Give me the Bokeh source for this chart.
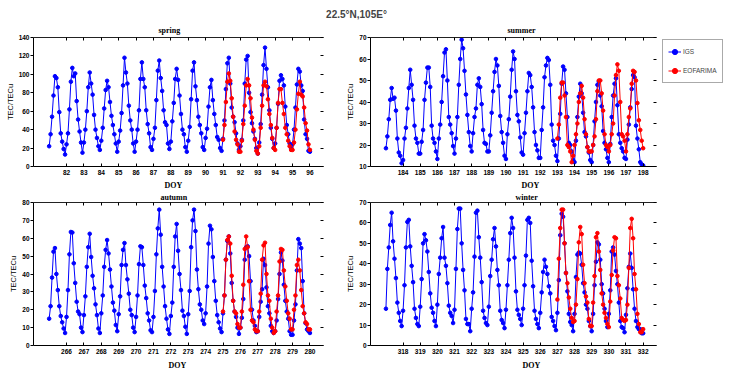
import math
from bokeh.plotting import figure
from bokeh.models import Range1d, FixedTicker, Label, Legend, LegendItem, LinearAxis, CustomJSTickFormatter, Title
from bokeh.layouts import column, row
from bokeh.embed import file_html
from bokeh.resources import INLINE

main_title = "22.5°N,105E°"
panel_titles = ["spring", "summer", "autumn", "winter"]
x_label = "DOY"
y_label = "TEC/TECu"
series_names = ["IGS", "EOFARIMA"]

# ---------------- data (2-hourly TEC, 12 values per day) ----------------
spring_ticks = list(range(82, 97))
spring_y_ticks = [0, 20, 40, 60, 80, 100, 120, 140]
spring_igs_start = 81
spring_eof_start = 91
spring_igs = [
    22, 35, 54, 77, 98, 96, 86, 59, 36, 27, 19, 13,
    24, 36, 62, 92, 107, 98, 101, 71, 51, 38, 26, 15,
    26, 40, 60, 86, 102, 90, 78, 56, 40, 31, 22, 18,
    28, 42, 63, 83, 93, 86, 70, 55, 45, 35, 25, 16,
    27, 39, 58, 88, 118, 102, 90, 66, 50, 40, 25, 16,
    27, 40, 61, 95, 113, 95, 86, 61, 46, 36, 21, 18,
    30, 42, 72, 104, 115, 96, 82, 61, 48, 45, 25, 19,
    27, 49, 69, 95, 106, 94, 77, 57, 40, 35, 21, 16,
    28, 43, 73, 104, 113, 87, 72, 54, 45, 36, 21, 18,
    31, 41, 65, 86, 94, 72, 57, 45, 32, 29, 20, 17,
    30, 50, 84, 112, 118, 90, 64, 54, 48, 36, 25, 18,
    22, 29, 50, 90, 116, 120, 80, 59, 47, 38, 30, 20,
    14, 26, 46, 78, 110, 129, 106, 86, 61, 42, 30, 20,
    25, 42, 68, 93, 99, 95, 88, 65, 45, 35, 25, 20,
    24, 40, 64, 89, 106, 103, 88, 82, 51, 35, 30, 17,
    16,
]
spring_eof = [
    29, 45, 70, 92, 101, 93, 74, 54, 38, 29, 24, 16,
    16, 28, 46, 66, 88, 95, 88, 74, 53, 40, 29, 17,
    14, 22, 42, 66, 88, 92, 87, 73, 57, 45, 31, 20,
    18, 42, 69, 84, 84, 69, 57, 42, 35, 28, 22, 18,
    18, 26, 40, 62, 79, 92, 78, 76, 64, 47, 39, 24,
    18,
]

summer_ticks = list(range(184, 199))
summer_y_ticks = [10, 20, 30, 40, 50, 60, 70]
summer_igs_start = 183
summer_eof_start = 193
summer_igs = [
    18.5, 24, 32, 41, 46.5, 41.5, 42, 36, 23, 16.5, 15, 11.5,
    13, 23, 28, 37, 46.5, 55, 48, 41, 29, 23, 21, 16,
    16, 21.5, 27, 41, 49, 56, 56, 47, 29, 23, 21, 17,
    13.5, 23, 29.5, 40, 52, 63, 64.5, 50, 33, 29.5, 25.5, 19.5,
    16, 23, 33, 48, 60, 69, 65, 54.5, 43.5, 34, 26, 19.5,
    17, 25.5, 33, 37, 48, 51, 47, 39, 27, 21, 20.5, 17,
    17, 24.5, 35, 45, 54, 60, 57, 47.5, 33.5, 26, 21, 15,
    13.5, 25, 32, 42.5, 55, 63.5, 60, 45, 34, 31, 23.5, 16.5,
    15.5, 25.5, 35, 45, 53.5, 52.5, 47, 37.5, 26, 20, 17.5, 14,
    14, 27, 37.5, 51.5, 57, 60.5, 59.5, 48, 29.5, 22, 20, 15,
    12.5, 23, 34.5, 48.5, 56.5, 55, 44, 33, 21, 20, 17, 13,
    12, 22, 33, 42.5, 48.5, 44, 35, 26, 24, 19, 16.5, 13,
    12, 20, 31, 40, 48, 49.5, 43, 38, 26.5, 21, 18, 14,
    12, 20.5, 33, 43, 48.5, 51, 38.5, 25, 21, 18.5, 17, 14,
    13.5, 22.5, 29.5, 37.5, 46, 52.5, 51.5, 29, 23, 18, 12, 11,
    10.5,
]
summer_eof = [
    23, 29.5, 42, 49, 49, 43, 33, 20, 19, 17, 12, 15,
    20, 25, 30, 40, 44, 47.5, 42, 32, 25, 19, 17, 17,
    17, 20, 24, 32, 45, 50, 50, 44, 36, 25, 20, 19,
    17, 20, 25, 30, 43, 52.5, 57.5, 54.5, 40, 25, 24, 22,
    17, 25, 33, 37, 48.5, 54.5, 54, 50, 39.5, 31.5, 27, 22,
    18.5,
]

autumn_ticks = list(range(266, 281))
autumn_y_ticks = [0, 10, 20, 30, 40, 50, 60, 70, 80]
autumn_igs_start = 265
autumn_eof_start = 275
autumn_igs = [
    15, 22, 38, 52.5, 54.5, 40, 31, 22, 16.5, 13, 9.5, 7,
    16, 31, 51, 63.5, 63.2, 46, 35, 24.5, 19, 17.5, 10, 7.5,
    17, 27.5, 44, 55, 62.5, 49.5, 39, 32, 23, 17, 9.5, 7,
    18, 28, 44, 53.5, 59, 51.5, 42.5, 33, 24, 19.5, 11.5, 8,
    17.5, 27.5, 45, 53.5, 57.3, 45, 37, 29, 20, 17, 10, 7.5,
    16, 28, 45.5, 55.5, 55, 45, 33.5, 26.5, 18, 14, 8.5, 7.5,
    16, 30.5, 51, 65.5, 76, 62, 44, 33, 22, 15, 9, 6.5,
    16.5, 24, 44, 61, 68, 53, 40, 31, 19.5, 16.5, 10.5, 6.5,
    17.5, 30.5, 55, 70, 76, 64, 42.5, 31.5, 23, 20, 14, 12,
    18, 33, 57, 67, 65, 49.5, 36, 25, 17, 13, 9.5, 7.5,
    18, 28, 48, 58.5, 61, 51.5, 35, 25, 19, 16, 10, 6.5,
    10, 15.5, 26, 48, 55, 55.5, 50, 36, 20, 14, 11, 7.5,
    8, 16, 24.5, 31.5, 48.5, 45, 32.5, 22, 18, 11, 8, 7,
    8, 14, 26, 40, 52, 47.5, 34, 25, 19, 15, 8, 6,
    6, 14, 23, 42, 59.5, 57, 54.5, 36, 18, 12.5, 9, 8,
    7,
]
autumn_eof = [
    19, 28, 48, 59, 61, 57, 39, 25, 19, 18, 12, 10,
    10, 19, 34, 54, 61, 55, 36, 20, 14, 13, 9, 8,
    8, 19, 29, 48, 56, 57.5, 40, 28, 25, 15, 10, 7,
    8, 19, 28, 47, 54, 53.5, 42, 33, 25, 18, 15, 9,
    9, 20, 28, 45, 48, 42, 31, 22, 18, 13, 12, 9,
    9,
]

winter_ticks = list(range(318, 333))
winter_y_ticks = [0, 10, 20, 30, 40, 50, 60, 70]
winter_igs_start = 317
winter_eof_start = 327
winter_igs = [
    18, 37.5, 48, 59, 65, 51, 42.5, 33, 21, 16, 12, 9.5,
    17, 29.5, 48, 60.5, 61.5, 48.5, 39, 31, 18, 13.5, 10.5, 9.5,
    19, 32.5, 50, 54.5, 51.5, 46, 36, 25.5, 18.5, 16, 12, 9.5,
    20, 35, 43, 52.5, 58, 43, 39, 30.5, 19.5, 16, 14.5, 11,
    17.5, 37.5, 57, 67, 67, 50, 37, 27, 13, 10.5, 10.5, 7,
    18, 26, 43.5, 65, 66, 53, 43, 31, 17, 13.5, 11, 10,
    19, 34, 42, 52, 57.5, 48.5, 37, 29.5, 17, 12.5, 11, 8.5,
    17.5, 29.5, 42, 55, 62.5, 57.5, 43, 26.5, 17.5, 15, 13, 10,
    18, 29.5, 44, 61.5, 62.5, 60, 41.5, 29, 17, 13, 10.5, 8.5,
    16, 26, 36, 42, 38.5, 35, 29, 25.5, 14, 12, 9.5, 7.5,
    16, 32, 54, 64.5, 63, 50, 35.5, 26.5, 15.5, 11.5, 10, 7,
    15.5, 33.5, 44.5, 45.5, 45, 39.5, 30.5, 26, 20, 18, 12, 9.5,
    7, 15.5, 29.5, 41, 50.5, 49.5, 42, 30, 25.5, 18, 12, 9,
    15.5, 27, 46, 48, 44.5, 36.5, 30, 21, 12, 9, 8.5, 6.5,
    15, 28, 38.5, 45, 38, 27.5, 18, 12, 9, 8, 8, 6,
    6,
]
winter_eof = [
    22.5, 42.5, 57.5, 66.5, 66.5, 50, 35.5, 30.5, 23.5, 18, 13.5, 11.5,
    12, 20, 32.5, 50.5, 58, 54.5, 39.5, 30.5, 24, 21, 13, 9.5,
    9.5, 21, 34, 53, 55, 46, 37, 25.5, 20, 16, 13.5, 10.5,
    9, 21.5, 34.5, 46.5, 53, 52.5, 34, 29.5, 23, 13.5, 12.5, 12,
    12.5, 20, 38, 57.5, 62, 52.5, 35, 27.5, 15.5, 10.5, 6.5, 6.5,
    8,
]

# ---------------- styling / layout ----------------
BLUE = "#0000ff"
RED = "#ff0000"
SANS = "Liberation Sans"
SERIF = "Liberation Serif"
STEPS_PER_DAY = 12
MARKER_SIZE = 3.6


def day_positions(start, n):
    return [start + i / STEPS_PER_DAY for i in range(n)]


def make_panel(title, ticks, yticks, igs, eof, igs_start, eof_start, geo):
    x0 = ticks[0] - 1.9
    x1 = ticks[-1] + 0.78
    p = figure(width=geo["w"], height=geo["h"],
               x_range=Range1d(x0, x1), y_range=Range1d(yticks[0], yticks[-1]),
               toolbar_location=None, output_backend="svg",
               min_border_left=geo["l"], min_border_right=geo["r"],
               min_border_top=geo["t"], min_border_bottom=geo["b"])
    p.grid.visible = False
    p.outline_line_color = None
    p.background_fill_color = "white"

    p.title.text = title
    p.title.align = "left"
    p.title.offset = geo["title_off"]
    p.title.standoff = geo["title_so"]
    p.title.text_font = SERIF
    p.title.text_font_style = "bold"
    p.title.text_font_size = "8px"
    p.title.text_color = "black"

    xa = p.xaxis[0]
    xa.ticker = FixedTicker(ticks=ticks)
    xa.major_tick_in = 3
    xa.major_tick_out = 0
    xa.minor_tick_line_color = None
    xa.major_label_standoff = 3
    xa.major_label_text_font = SANS
    xa.major_label_text_font_size = "6.5px"
    xa.major_label_text_font_style = "bold"
    xa.major_label_text_color = "black"
    xa.axis_line_color = "black"
    xa.major_tick_line_color = "black"

    ya = p.yaxis[0]
    ya.ticker = FixedTicker(ticks=yticks)
    ya.major_tick_in = 0
    ya.major_tick_out = 3
    ya.minor_tick_line_color = None
    ya.major_label_standoff = 1
    ya.major_label_text_font = SANS
    ya.major_label_text_font_size = "6.5px"
    ya.major_label_text_font_style = "bold"
    ya.major_label_text_color = "black"
    ya.axis_line_color = "black"
    ya.major_tick_line_color = "black"
    ya.axis_label = y_label
    ya.axis_label_standoff = 1
    ya.axis_label_text_font = SANS
    ya.axis_label_text_font_size = "7.5px"
    ya.axis_label_text_font_style = "normal"
    ya.axis_label_text_color = "black"

    blank = CustomJSTickFormatter(code="return ''")
    top = LinearAxis(ticker=FixedTicker(ticks=ticks), formatter=blank,
                     major_tick_in=3, major_tick_out=0, minor_tick_line_color=None,
                     major_label_standoff=0, major_label_text_font_size="1px",
                     axis_line_color="#222222", major_tick_line_color="black")
    p.add_layout(top, "above")
    right = LinearAxis(ticker=FixedTicker(ticks=yticks), formatter=blank,
                       major_tick_in=3, major_tick_out=0, minor_tick_line_color=None,
                       major_label_standoff=0, major_label_text_font_size="1px",
                       axis_line_color=None, major_tick_line_color="black")
    p.add_layout(right, "right")

    p.add_layout(Title(text=x_label, align="left", offset=geo["doy_off"],
                       standoff=geo["doy_so"], text_font=SERIF, text_font_style="bold",
                       text_font_size="8px", text_color="black"), "below")

    xs = day_positions(igs_start, len(igs))
    xe = day_positions(eof_start, len(eof))
    p.line(xs, igs, line_color=BLUE, line_width=1)
    p.scatter(xs, igs, marker="circle", size=MARKER_SIZE, fill_color=BLUE, line_color=BLUE)
    p.line(xe, eof, line_color=RED, line_width=1)
    p.scatter(xe, eof, marker="circle", size=MARKER_SIZE, fill_color=RED, line_color=RED)
    return p


geo_spring = dict(w=343, h=170, l=33, r=20, t=16, b=20,
                  title_off=125, title_so=5, doy_off=131, doy_so=2)
geo_summer = dict(w=317, h=170, l=24, r=4, t=16, b=20,
                  title_off=137, title_so=5, doy_off=151, doy_so=2)
geo_autumn = dict(w=343, h=181, l=33, r=20, t=11, b=21,
                  title_off=127, title_so=1, doy_off=135, doy_so=4)
geo_winter = dict(w=386, h=181, l=24, r=73, t=11, b=21,
                  title_off=145, title_so=1, doy_off=152, doy_so=4)

sp = make_panel(panel_titles[0], spring_ticks, spring_y_ticks, spring_igs, spring_eof,
                spring_igs_start, spring_eof_start, geo_spring)
su = make_panel(panel_titles[1], summer_ticks, summer_y_ticks, summer_igs, summer_eof,
                summer_igs_start, summer_eof_start, geo_summer)
au = make_panel(panel_titles[2], autumn_ticks, autumn_y_ticks, autumn_igs, autumn_eof,
                autumn_igs_start, autumn_eof_start, geo_autumn)
wi = make_panel(panel_titles[3], winter_ticks, winter_y_ticks, winter_igs, winter_eof,
                winter_igs_start, winter_eof_start, geo_winter)

# legend panel (its own small canvas to the right of "summer"); its proxy glyphs
# reuse the summer series, which fall outside this canvas's ranges
lf = figure(width=69, height=170, x_range=Range1d(0, 1), y_range=Range1d(0, 1),
            toolbar_location=None, output_backend="svg",
            min_border_top=17, min_border_left=0, min_border_right=0, min_border_bottom=0,
            x_axis_location=None, y_axis_location=None)
lf.grid.visible = False
lf.outline_line_color = None
lx1 = day_positions(summer_igs_start, len(summer_igs))
lx2 = day_positions(summer_eof_start, len(summer_eof))
k1 = lf.line(lx1, summer_igs, line_color=BLUE, line_width=1)
k2 = lf.scatter(lx1, summer_igs, marker="circle", size=MARKER_SIZE, fill_color=BLUE, line_color=BLUE)
k3 = lf.line(lx2, summer_eof, line_color=RED, line_width=1)
k4 = lf.scatter(lx2, summer_eof, marker="circle", size=MARKER_SIZE, fill_color=RED, line_color=RED)
lg = Legend(items=[LegendItem(label=series_names[0], renderers=[k1, k2]),
                   LegendItem(label=series_names[1], renderers=[k3, k4])],
            location="top_left", padding=5, spacing=6,
            glyph_width=13, glyph_height=13, label_standoff=2,
            label_text_font=SANS, label_text_font_size="6.5px",
            label_height=8, border_line_color="#555555",
            background_fill_color="white", margin=2)
lf.add_layout(lg)

tf = figure(width=729, height=20, x_range=Range1d(0, 729), y_range=Range1d(0, 20),
            toolbar_location=None, output_backend="svg", min_border=0,
            x_axis_location=None, y_axis_location=None)
tf.grid.visible = False
tf.outline_line_color = None
tf.add_layout(Label(x=356, y=6, text=main_title, text_font=SANS, text_font_style="bold",
                    text_font_size="10px", text_align="center", text_baseline="middle"))

layout = column(tf, row(sp, su, lf), row(au, wi))
open("out.html", "w").write(file_html(layout, INLINE))
